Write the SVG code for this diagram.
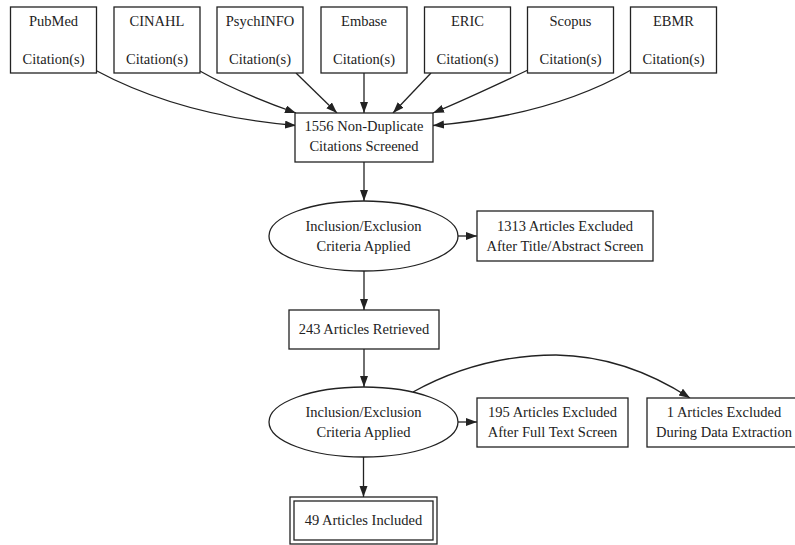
<svg xmlns="http://www.w3.org/2000/svg" width="795" height="545" viewBox="0 0 795 545">
<style>
.n{fill:#fff;stroke:#222;stroke-width:1.3}
.t{font-family:"Liberation Serif","Times New Roman",serif;font-size:14.5px;fill:#222;text-anchor:middle}
.e{fill:none;stroke:#222;stroke-width:1.3}
</style>
<defs>
<marker id="ah" markerUnits="userSpaceOnUse" markerWidth="12" markerHeight="9" refX="11" refY="4" orient="auto">
<path d="M0,0 L11,4 L0,8 z" fill="#222"/>
</marker>
</defs>
<rect width="795" height="545" fill="#fff"/>
<g id="connectors">
<path class="e" marker-end="url(#ah)" d="M95,70 C160,105 230,120 296,125.5"/>
<path class="e" marker-end="url(#ah)" d="M198,70 C230,88 262,101 296,113"/>
<path class="e" marker-end="url(#ah)" d="M296,73 L337,113"/>
<path class="e" marker-end="url(#ah)" d="M364,73 L364,113"/>
<path class="e" marker-end="url(#ah)" d="M431,73 L393,113"/>
<path class="e" marker-end="url(#ah)" d="M528,70 C490,88 462,101 433,113"/>
<path class="e" marker-end="url(#ah)" d="M631,70 C570,105 500,120 433,125.5"/>
<path class="e" marker-end="url(#ah)" d="M364,162 L364,201"/>
<path class="e" marker-end="url(#ah)" d="M458,236 L477,236"/>
<path class="e" marker-end="url(#ah)" d="M364,271 L364,310"/>
<path class="e" marker-end="url(#ah)" d="M364,349 L364,387"/>
<path class="e" marker-end="url(#ah)" d="M458,422 L477,422"/>
<path class="e" marker-end="url(#ah)" d="M413,392 Q480,355 556,355 Q625,356 690,398"/>
<path class="e" marker-end="url(#ah)" d="M363.5,457 L363.5,497"/>
</g>
<g id="pubmed"><rect class="n" x="10.5" y="7" width="86" height="66"/><text class="t" x="53.5" y="26">PubMed</text><text class="t" x="53.5" y="64">Citation(s)</text></g>
<g id="cinahl"><rect class="n" x="114" y="7" width="86" height="66"/><text class="t" x="157" y="26">CINAHL</text><text class="t" x="157" y="64">Citation(s)</text></g>
<g id="psychinfo"><rect class="n" x="217" y="7" width="86" height="66"/><text class="t" x="260" y="26">PsychINFO</text><text class="t" x="260" y="64">Citation(s)</text></g>
<g id="embase"><rect class="n" x="321" y="7" width="86" height="66"/><text class="t" x="364" y="26">Embase</text><text class="t" x="364" y="64">Citation(s)</text></g>
<g id="eric"><rect class="n" x="424.5" y="7" width="86" height="66"/><text class="t" x="467.5" y="26">ERIC</text><text class="t" x="467.5" y="64">Citation(s)</text></g>
<g id="scopus"><rect class="n" x="527.5" y="7" width="86" height="66"/><text class="t" x="570.5" y="26">Scopus</text><text class="t" x="570.5" y="64">Citation(s)</text></g>
<g id="ebmr"><rect class="n" x="630.5" y="7" width="86" height="66"/><text class="t" x="673.5" y="26">EBMR</text><text class="t" x="673.5" y="64">Citation(s)</text></g>
<g id="screened"><rect class="n" x="295" y="113" width="138" height="49"/><text class="t" x="364" y="131">1556 Non-Duplicate</text><text class="t" x="364" y="151">Citations Screened</text></g>
<g id="criteria1"><ellipse class="n" cx="363.5" cy="236" rx="94.5" ry="35"/><text class="t" x="363.5" y="230.5">Inclusion/Exclusion</text><text class="t" x="363.5" y="250.5">Criteria Applied</text></g>
<g id="excluded1313"><rect class="n" x="477" y="211" width="176" height="50"/><text class="t" x="565" y="230.5">1313 Articles Excluded</text><text class="t" x="565" y="250.5">After Title/Abstract Screen</text></g>
<g id="retrieved"><rect class="n" x="289" y="310" width="150" height="39"/><text class="t" x="364" y="334">243 Articles Retrieved</text></g>
<g id="criteria2"><ellipse class="n" cx="363.5" cy="422" rx="94.5" ry="35"/><text class="t" x="363.5" y="417">Inclusion/Exclusion</text><text class="t" x="363.5" y="437">Criteria Applied</text></g>
<g id="excluded195"><rect class="n" x="477" y="398" width="151" height="49"/><text class="t" x="552.5" y="417">195 Articles Excluded</text><text class="t" x="552.5" y="437">After Full Text Screen</text></g>
<g id="excluded1"><rect class="n" x="647" y="398" width="154" height="49"/><text class="t" x="724" y="417">1 Articles Excluded</text><text class="t" x="724" y="437">During Data Extraction</text></g>
<g id="included"><rect class="n" x="290" y="497" width="147" height="47"/><rect class="n" x="294" y="501" width="139" height="39"/><text class="t" x="363.5" y="525">49 Articles Included</text></g>
</svg>
